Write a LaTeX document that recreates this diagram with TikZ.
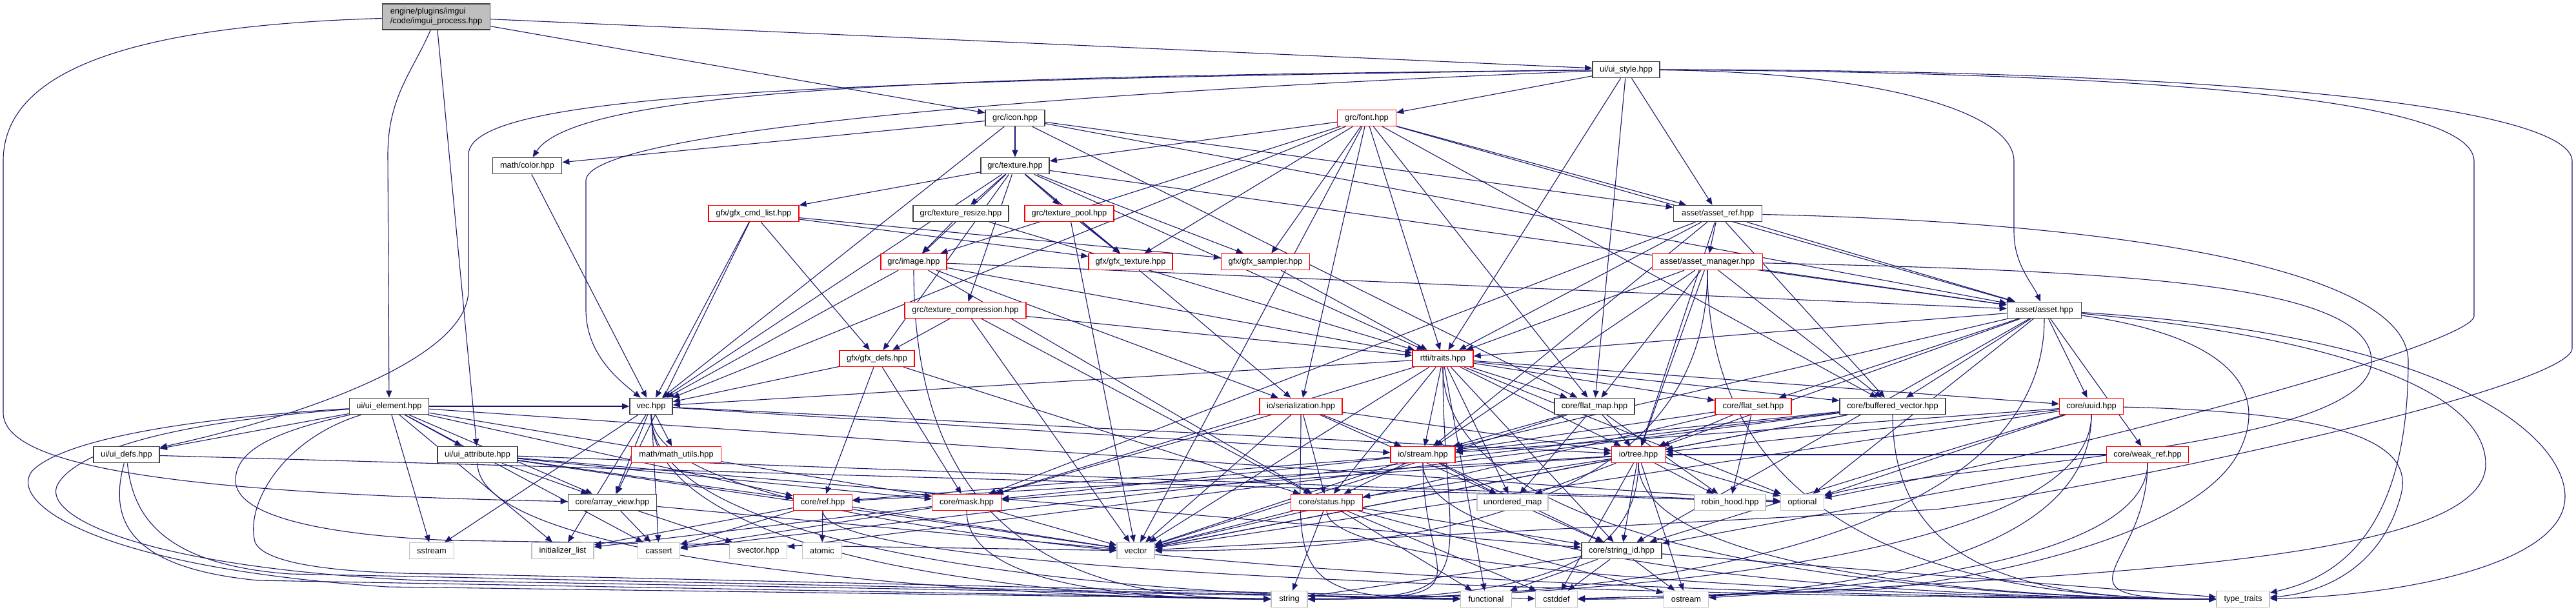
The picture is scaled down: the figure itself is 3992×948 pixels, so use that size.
\documentclass[tikz,border=0pt]{standalone}
\usepackage{fontspec}
\setmainfont{Liberation Sans}
\usetikzlibrary{arrows.meta}
\definecolor{edgec}{HTML}{191970}
\definecolor{darkb}{HTML}{404040}
\definecolor{lgray}{HTML}{BFBFBF}
\pgfdeclarelayer{bg}
\pgfdeclarelayer{edges}
\pgfsetlayers{bg,edges,main}
\tikzset{
  box/.style={rectangle, minimum height=25pt, inner sep=0pt, fill=white, font=\fontsize{12.8}{15}\selectfont},
  nb/.style={box, draw=darkb, line width=1.7pt},
  nr/.style={box, draw=red, line width=1.4pt},
  ng/.style={box, draw=lgray, line width=1.4pt},
  nroot/.style={box, fill=lgray, draw=darkb, line width=1.7pt, minimum height=40pt, align=left},
  edg/.style={draw=edgec, line width=1.1pt, -{Triangle[length=11pt,width=9pt]}}
}
\newcommand{\myEL}[3]{\draw[edg] (#1) .. controls ([yshift=-#3pt]#1.center) and ([xshift=-320pt]#2.center) .. (#2);}
\newcommand{\myER}[3]{\draw[edg] (#1) .. controls ([yshift=-#3pt]#1.center) and ([xshift=320pt]#2.center) .. (#2);}
\begin{document}
\begin{tikzpicture}[x=1pt,y=-1pt]
\begin{pgfonlayer}{bg}
\fill[white] (0,0) rectangle (3992,948);
\end{pgfonlayer}
\useasboundingbox (0,0) rectangle (3992,948);
% nodes
\node[nroot, minimum width=167pt] (root) at (676,26) {engine/plugins/imgui\\/code/imgui\_process.hpp};
\node[nb, minimum width=104pt] (uistyle) at (2520,108) {ui/ui\_style.hpp};
\node[nb, minimum width=92pt] (icon) at (1573,183) {grc/icon.hpp};
\node[nr, minimum width=91pt] (font) at (2118,183) {grc/font.hpp};
\node[nb, minimum width=107pt] (color) at (817,257) {math/color.hpp};
\node[nb, minimum width=106pt] (texture) at (1573,257) {grc/texture.hpp};
\node[nr, minimum width=140pt] (cmdlist) at (1168,331) {gfx/gfx\_cmd\_list.hpp};
\node[nb, minimum width=148pt] (tresize) at (1489,331) {grc/texture\_resize.hpp};
\node[nr, minimum width=138pt] (tpool) at (1657,331) {grc/texture\_pool.hpp};
\node[nb, minimum width=137pt] (assetref) at (2662,331) {asset/asset\_ref.hpp};
\node[nr, minimum width=102pt] (image) at (1416,406) {grc/image.hpp};
\node[nr, minimum width=130pt] (gtex) at (1752,406) {gfx/gfx\_texture.hpp};
\node[nr, minimum width=137pt] (gsamp) at (1961,406) {gfx/gfx\_sampler.hpp};
\node[nr, minimum width=171pt] (assetmgr) at (2646,406) {asset/asset\_manager.hpp};
\node[nr, minimum width=188pt] (tcomp) at (1496,481) {grc/texture\_compression.hpp};
\node[nb, minimum width=115pt] (asset) at (3168,481) {asset/asset.hpp};
\node[nr, minimum width=116pt] (gdefs) at (1359,556) {gfx/gfx\_defs.hpp};
\node[nr, minimum width=94pt] (rtti) at (2236,556) {rtti/traits.hpp};
\node[nb, minimum width=123pt] (uielem) at (603,630) {ui/ui\_element.hpp};
\node[nb, minimum width=66pt] (vec) at (1009,630) {vec.hpp};
\node[nr, minimum width=128pt] (serial) at (2016,630) {io/serialization.hpp};
\node[nb, minimum width=124pt] (flatmap) at (2471,630) {core/flat\_map.hpp};
\node[nr, minimum width=118pt] (flatset) at (2717,630) {core/flat\_set.hpp};
\node[nb, minimum width=164pt] (bufvec) at (2933,630) {core/buffered\_vector.hpp};
\node[nr, minimum width=99pt] (uuid) at (3241,630) {core/uuid.hpp};
\node[nb, minimum width=102pt] (uidefs) at (196,705) {ui/ui\_defs.hpp};
\node[nb, minimum width=124pt] (uiattr) at (740,705) {ui/ui\_attribute.hpp};
\node[nr, minimum width=139pt] (mathu) at (1048,705) {math/math\_utils.hpp};
\node[nr, minimum width=100pt] (stream) at (2205,705) {io/stream.hpp};
\node[nr, minimum width=83pt] (tree) at (2539,705) {io/tree.hpp};
\node[nr, minimum width=127pt] (weakref) at (3328,705) {core/weak\_ref.hpp};
\node[nb, minimum width=137pt] (arrview) at (949,779) {core/array\_view.hpp};
\node[nr, minimum width=91pt] (ref) at (1275,779) {core/ref.hpp};
\node[nr, minimum width=107pt] (mask) at (1498,779) {core/mask.hpp};
\node[nr, minimum width=111pt] (status) at (2056,779) {core/status.hpp};
\node[ng, minimum width=110pt] (umap) at (2344,779) {unordered\_map};
\node[ng, minimum width=110pt] (robin) at (2681,779) {robin\_hood.hpp};
\node[ng, minimum width=67pt] (optional) at (2793,779) {optional};
\node[ng, minimum width=69pt] (sstream) at (669,854) {sstream};
\node[ng, minimum width=96pt] (initl) at (872,854) {initializer\_list};
\node[ng, minimum width=65pt] (cassert) at (1021,854) {cassert};
\node[ng, minimum width=89pt] (svector) at (1175,854) {svector.hpp};
\node[ng, minimum width=61pt] (atomic) at (1274,854) {atomic};
\node[ng, minimum width=58pt] (vector) at (1760,854) {vector};
\node[nb, minimum width=124pt] (strid) at (2513,854) {core/string\_id.hpp};
\node[ng, minimum width=56pt] (string) at (1998,929) {string};
\node[ng, minimum width=79pt] (functional) at (2303,929) {functional};
\node[ng, minimum width=65pt] (cstddef) at (2412,929) {cstddef};
\node[ng, minimum width=69pt] (ostream) at (2613,929) {ostream};
\node[ng, minimum width=82pt] (typetraits) at (3476,929) {type\_traits};
% edges
\begin{pgfonlayer}{edges}
\foreach \a/\b in {root/uistyle, root/icon, root/uiattr,
 uistyle/font, uistyle/rtti, uistyle/flatmap, uistyle/assetref,
 font/texture, font/image, font/gtex, font/gsamp, font/assetref, font/asset, font/rtti, font/serial, font/vec, font/flatmap, font/bufvec, font/vector,
 icon/texture, icon/color, icon/vec, icon/assetref, icon/asset, icon/flatmap,
 color/vec,
 texture/cmdlist, texture/tresize, texture/tpool, texture/image, texture/gtex, texture/gsamp, texture/tcomp, texture/gdefs, texture/vec, texture/serial, texture/asset, texture/rtti,
 cmdlist/gtex, cmdlist/gsamp, cmdlist/vec, cmdlist/gdefs, cmdlist/arrview,
 tresize/image, tresize/rtti, tpool/gtex, tpool/vector,
 image/asset, image/vec, image/rtti, image/serial, image/status, gsamp/rtti,
 assetref/assetmgr, assetref/asset, assetref/rtti, assetref/stream, assetref/tree, assetref/bufvec, assetref/mask,
 assetmgr/asset, assetmgr/rtti, assetmgr/flatmap, assetmgr/bufvec, assetmgr/stream, assetmgr/tree,
 tcomp/gdefs, tcomp/rtti, tcomp/status, tcomp/vector,
 asset/rtti, asset/flatset, asset/bufvec, asset/uuid, asset/weakref, asset/stream, asset/tree, asset/strid, asset/optional,
 gdefs/vec, gdefs/ref, gdefs/mask, gdefs/status,
 rtti/vec, rtti/stream, rtti/tree, rtti/status, rtti/umap, rtti/flatmap, rtti/flatset, rtti/bufvec, rtti/uuid, rtti/strid, rtti/optional, rtti/vector, rtti/mask, rtti/functional,
 uielem/uidefs, uielem/uiattr, uielem/sstream, uielem/ref, uielem/mask, uielem/arrview, uielem/cassert, uielem/initl, uielem/vec, uielem/optional,
 uidefs/optional,
 uiattr/arrview, uiattr/ref, uiattr/mask, uiattr/vector, uiattr/strid, uiattr/optional,
 vec/mathu, vec/arrview, vec/sstream, vec/initl, vec/cassert, vec/stream, vec/tree,
 serial/stream, serial/tree, serial/status, serial/mask, serial/vector, serial/strid,
 flatmap/stream, flatmap/umap, flatmap/tree, flatmap/robin, flatmap/vector,
 flatset/robin, flatset/tree, flatset/stream, flatset/vector,
 bufvec/stream, bufvec/tree, bufvec/svector, bufvec/cassert, bufvec/vector,
 uuid/stream, uuid/tree, uuid/optional, uuid/strid, uuid/vector,
 weakref/tree, weakref/strid,
 stream/status, stream/umap, stream/strid, stream/mask, stream/vector, stream/ref,
 tree/status, tree/umap, tree/robin, tree/strid, tree/vector, tree/mask, tree/ref, tree/optional, tree/cstddef, tree/ostream,
 status/string, status/functional, status/cstddef, status/strid, status/vector, status/ostream,
 arrview/cassert, arrview/svector, arrview/vector,
 ref/atomic, ref/cassert, ref/vector, ref/initl,
 mask/vector, mask/cassert, mask/initl,
 strid/string, strid/functional, strid/cstddef, strid/ostream, strid/typetraits}
 \draw[edg] (\a) -- (\b);
% bottom channel curves
\myEL{vec}{string}{250}
\myEL{vec}{functional}{265}
\myEL{vec}{typetraits}{280}
\myEL{uiattr}{string}{185}
\myEL{image}{string}{440}
\myEL{mask}{string}{110}
\myEL{serial}{functional}{250}
\myEL{rtti}{typetraits}{340}
\myEL{stream}{typetraits}{200}
\myEL{tree}{typetraits}{190}
\myEL{status}{typetraits}{125}
\myEL{weakref}{typetraits}{180}
\myEL{bufvec}{typetraits}{260}
\myEL{ref}{typetraits}{135}
\myEL{assetmgr}{typetraits}{480}
\myER{rtti}{string}{330}
\myER{stream}{string}{200}
\myER{tree}{string}{190}
\myER{uuid}{string}{260}
\myER{uuid}{cstddef}{270}
\myER{weakref}{cstddef}{190}
\myER{assetmgr}{vector}{430}
\myER{asset}{string}{420}
% special routes
\draw[edg] (root) .. controls (640,110) and (601,150) .. (601,240) -- (uielem);
\draw[edg] (root) .. controls (200,40) and (5,110) .. (5,250) -- (5,640) .. controls (5,720) and (250,765) .. (arrview);
\draw[edg] (uistyle) .. controls (1600,118) and (900,128) .. (color);
\draw[edg] (uistyle) .. controls (1200,125) and (726,150) .. (726,240) -- (726,450) .. controls (726,560) and (450,650) .. (uidefs);
\draw[edg] (uistyle) .. controls (1700,140) and (908,200) .. (908,280) -- (908,480) .. controls (908,550) and (960,590) .. (vec);
\draw[edg] (uistyle) .. controls (2900,112) and (3121,170) .. (3121,250) -- (3121,360) .. controls (3121,410) and (3150,440) .. (asset);
\draw[edg] (uistyle) .. controls (3300,112) and (3834,150) .. (3834,250) -- (3834,490) .. controls (3834,530) and (3300,680) .. (optional);
\draw[edg] (uistyle) .. controls (3500,108) and (3986,170) .. (3986,250) -- (3986,540) .. controls (3986,600) and (3300,750) .. (3000,790) -- (vector);
\draw[edg] (uielem) .. controls (300,648) and (100,680) .. (50,730) .. controls (10,780) and (150,880) .. (600,910) -- (string);
\draw[edg] (uielem) .. controls (260,655) and (120,700) .. (90,750) .. controls (60,800) and (220,880) .. (650,900) -- (functional);
\draw[edg] (uielem) .. controls (420,670) and (365,700) .. (365,745) .. controls (365,800) and (500,830) .. (700,838) -- (vector);
\draw[edg] (uielem) .. controls (440,680) and (380,780) .. (395,840) .. controls (410,880) and (560,890) .. (700,890) -- (cstddef);
\draw[edg] (uidefs) .. controls (170,800) and (190,880) .. (400,900) -- (string);
\draw[edg] (uidefs) .. controls (205,790) and (240,875) .. (450,890) -- (functional);
\draw[edg] (asset) .. controls (3807,520) and (3975,680) .. (3975,770) .. controls (3975,880) and (3700,925) .. (typetraits);
\draw[edg] (uuid) .. controls (3675,640) and (3740,700) .. (3720,770) .. controls (3690,880) and (3600,920) .. (typetraits);
\draw[edg] (asset) .. controls (3600,520) and (3852,600) .. (3852,720) .. controls (3852,850) and (3400,880) .. (3000,905) -- (ostream);
\draw[edg] (asset) .. controls (3446,520) and (3520,600) .. (3470,700) .. controls (3420,800) and (3200,880) .. (2900,915) -- (cstddef);
\draw[edg] (assetref) .. controls (3300,345) and (3732,420) .. (3732,560) .. controls (3732,850) and (3600,900) .. (typetraits);
\draw[edg] (assetmgr) .. controls (3300,420) and (3675,440) .. (3675,560) .. controls (3675,700) and (3000,720) .. (optional);
\end{pgfonlayer}
\end{tikzpicture}
\end{document}
